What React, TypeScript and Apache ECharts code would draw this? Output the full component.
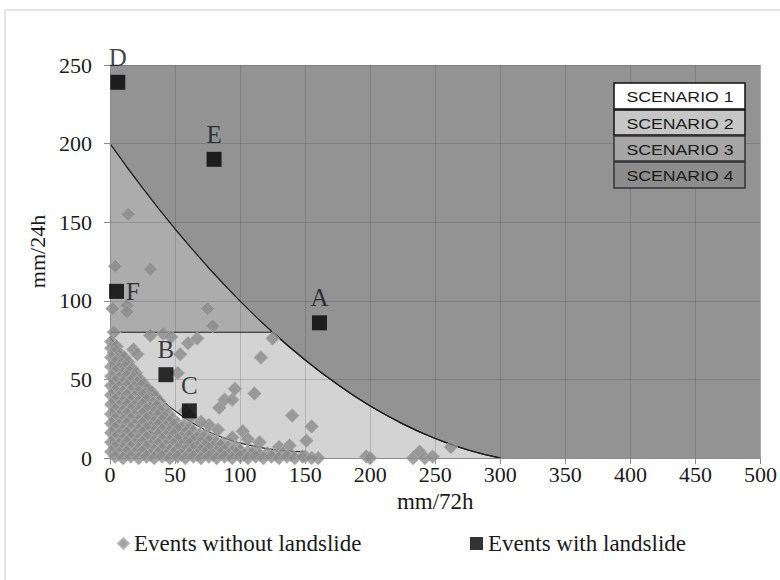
import React, { useEffect, useRef } from "react";
import * as echarts from "echarts";

const xTicks = [0, 50, 100, 150, 200, 250, 300, 350, 400, 450, 500];
const yTicks = [0, 50, 100, 150, 200, 250];

// Outer threshold curve (scenario 3/4 boundary)
const outerCurve: [number, number][] = [
  [0, 200], [12.5, 185.6], [25, 171.8], [37.5, 158.5], [50, 145.7], [62.5, 133.5], [75, 121.7],
  [87.5, 110.5], [100, 99.8], [112.5, 89.6], [125, 80], [137.5, 70.9], [150, 62.3], [162.5, 54.2],
  [175, 46.7], [187.5, 39.6], [200, 33.1], [212.5, 27.2], [225, 21.7], [237.5, 16.8], [250, 12.4],
  [262.5, 8.5], [275, 5.1], [287.5, 2.3], [300, 0],
];
// Horizontal threshold (scenario 2/3 boundary)
const midLine: [number, number][] = [[0, 80], [125, 80]];
// Inner threshold curve (scenario 1/2 boundary)
const innerCurve: [number, number][] = [
  [0, 77], [7.5, 68], [15, 60], [22.5, 52], [30, 45], [37.5, 39], [45, 33], [52.5, 28.5],
  [60, 24], [67.5, 20.3], [75, 17], [82.5, 14.3], [90, 12], [97.5, 10], [105, 8.5],
  [112.5, 7.2], [120, 6], [127.5, 5.2], [135, 4.5], [142.5, 4.1], [150, 4],
];

const withoutLandslide: [number, number][] = [
  // scattered events
  [14, 155], [4, 122], [31, 120], [13, 97], [2, 95], [13, 93], [75, 95], [79, 84], [3, 80],
  [31, 78], [41, 79], [47, 77], [60, 73], [67, 76], [125, 76], [116, 64], [54, 66], [18, 69],
  [21, 66], [52, 54], [96, 44], [111, 41], [88, 37], [94, 37], [84, 32],
  [140, 27], [155, 20], [151, 11], [160, 0], [150, 1], [197, 1], [200, 0], [233, 0], [238, 4],
  [242, 0], [248, 1], [262, 7],
  [76, 21], [83, 18], [102, 17], [94, 13], [106, 12], [115, 10], [130, 7], [138, 8],
  [62, 26], [58, 30], [70, 23],
  // dense cluster
  [1, 74], [1, 70], [5, 71], [3, 67], [8, 66], [1, 64], [6, 63], [11, 64], [4, 61], [9, 60], [14, 61],
  [1, 58], [7, 57], [12, 58], [17, 57], [4, 55], [10, 54], [15, 55], [20, 54],
  [1, 52], [7, 51], [13, 52], [18, 51], [23, 50], [4, 49], [10, 48], [16, 49], [21, 48], [26, 47],
  [1, 46], [7, 45], [13, 46], [19, 45], [24, 46], [29, 44],
  [4, 43], [10, 42], [16, 43], [22, 42], [27, 41], [32, 42],
  [1, 40], [7, 39], [13, 40], [19, 39], [25, 40], [30, 38], [35, 39],
  [4, 37], [10, 36], [16, 37], [22, 36], [28, 37], [33, 35], [38, 36],
  [1, 34], [7, 33], [13, 34], [19, 33], [25, 34], [31, 32], [36, 33], [42, 31],
  [4, 31], [10, 30], [16, 31], [22, 30], [28, 31], [34, 29], [39, 30], [45, 28],
  [1, 28], [7, 27], [13, 28], [19, 27], [25, 28], [31, 26], [37, 27], [42, 26], [48, 25],
  [4, 25], [10, 24], [16, 25], [22, 24], [28, 25], [34, 23], [40, 24], [46, 23], [52, 22], [57, 21],
  [1, 22], [7, 21], [13, 22], [19, 21], [25, 22], [31, 20], [37, 21], [43, 20], [49, 21], [55, 19], [61, 19],
  [4, 19], [10, 18], [16, 19], [22, 18], [28, 19], [34, 17], [40, 18], [46, 17], [52, 18], [58, 16], [64, 17], [69, 15],
  [1, 16], [7, 15], [13, 16], [19, 15], [25, 16], [31, 14], [37, 15], [43, 14], [49, 15], [55, 13], [61, 14],
  [67, 13], [73, 14], [78, 12],
  [4, 13], [10, 12], [16, 13], [22, 12], [28, 13], [34, 11], [40, 12], [46, 11], [52, 12], [58, 10], [64, 11],
  [70, 10], [76, 11], [82, 10], [87, 9],
  [1, 10], [7, 9], [13, 10], [19, 9], [25, 10], [31, 8], [37, 9], [43, 8], [49, 9], [55, 8], [61, 9], [67, 7],
  [73, 8], [79, 7], [85, 8], [91, 7], [97, 7],
  [4, 7], [10, 6], [16, 7], [22, 6], [28, 7], [34, 5], [40, 6], [46, 5], [52, 6], [58, 5], [64, 6], [70, 5],
  [76, 6], [82, 4], [88, 5], [94, 4], [100, 5], [106, 4], [112, 5],
  [1, 4], [7, 3], [13, 4], [19, 3], [25, 4], [31, 2], [37, 3], [43, 2], [49, 3], [55, 2], [61, 3], [67, 2],
  [73, 3], [79, 2], [85, 3], [91, 2], [97, 3], [103, 2], [109, 3], [115, 2], [121, 3], [127, 2], [133, 3], [139, 2],
  [4, 1], [10, 0], [16, 1], [22, 0], [28, 1], [34, 0], [40, 1], [46, 0], [52, 1], [58, 0], [64, 1], [70, 0],
  [76, 1], [82, 0], [88, 1], [94, 0], [100, 1], [106, 0], [112, 1], [118, 0], [124, 1], [130, 0], [136, 1],
  [142, 0], [148, 1], [155, 0],
];

const landslideNames = ["A", "B", "C", "D", "E", "F"];
const landslideX = [161, 43, 61, 6, 80, 5];
const landslideY = [86, 53, 30, 239, 190, 106];
const landslideLabelPos = ["top", "top", "top", "top", "top", "right"];

const scenarioLabels = ["SCENARIO 1", "SCENARIO 2", "SCENARIO 3", "SCENARIO 4"];
const scenarioColors = ["#ffffff", "#c6c6c6", "#a6a6a6", "#8c8c8c"];
const scenarioBorders = ["#111111", "#111111", "#333333", "#333333"];

const SERIF = "'Liberation Serif', 'Times New Roman', serif";
const SANS = "'Liberation Sans', Arial, sans-serif";

export default function App() {
  const ref = useRef<HTMLDivElement>(null);
  useEffect(() => {
    if (!ref.current) return;
    const chart = echarts.init(ref.current, null, { renderer: "svg" });

    const boxTops = [83, 110, 136, 162];
    const boxHeights = [26, 25, 25, 26];
    const scenarioGraphics: any[] = [];
    scenarioLabels.forEach((lab, i) => {
      scenarioGraphics.push({
        type: "rect",
        shape: { x: 614, y: boxTops[i], width: 131, height: boxHeights[i] },
        style: { fill: scenarioColors[i], stroke: scenarioBorders[i], lineWidth: 1.5 },
        z: 100,
      });
      scenarioGraphics.push({
        type: "text",
        x: 680,
        y: boxTops[i] + boxHeights[i] / 2 + 1,
        scaleX: 1.18,
        style: {
          text: lab,
          x: 0,
          y: 0,
          textAlign: "center",
          textVerticalAlign: "middle",
          fontFamily: SANS,
          fontSize: 15,
          fill: "#1a1a1a",
        },
        z: 101,
      });
    });

    const landslideData = landslideNames.map((n, i) => ({
      value: [landslideX[i], landslideY[i]],
      name: n,
      label: { position: landslideLabelPos[i], distance: landslideLabelPos[i] === "right" ? 2 : 5 },
    }));

    chart.setOption({
      animation: false,
      backgroundColor: "#ffffff",
      grid: {
        left: 110, right: 16, top: 65, bottom: 122,
        show: true, backgroundColor: "#939393", borderWidth: 0,
      },
      xAxis: {
        type: "value", min: 0, max: 500, interval: 50, z: 3,
        name: "mm/72h", nameLocation: "middle", nameGap: 22,
        nameTextStyle: { fontFamily: SERIF, fontSize: 23, color: "#1a1a1a" },
        axisLine: { show: true, lineStyle: { color: "#8c8c8c", width: 1 } },
        axisTick: { show: true, length: 6, lineStyle: { color: "#8c8c8c" } },
        axisLabel: {
          fontFamily: SERIF, fontSize: 22, color: "#1a1a1a", margin: 5,
          formatter: (v: number) => (xTicks.includes(v) ? String(v) : ""),
        },
        splitLine: { show: true, lineStyle: { color: "rgba(50,50,50,0.2)", width: 1 } },
      },
      yAxis: {
        type: "value", min: 0, max: 250, interval: 50, z: 3,
        name: "mm/24h", nameLocation: "middle", nameGap: 62,
        nameTextStyle: { fontFamily: SERIF, fontSize: 22, color: "#1a1a1a", padding: [0, 0, 0, 20] },
        axisLine: { show: true, lineStyle: { color: "#8c8c8c", width: 1 } },
        axisTick: { show: true, length: 6, lineStyle: { color: "#8c8c8c" } },
        axisLabel: {
          fontFamily: SERIF, fontSize: 22, color: "#1a1a1a", margin: 18,
          formatter: (v: number) => (yTicks.includes(v) ? String(v) : ""),
        },
        splitLine: { show: true, lineStyle: { color: "rgba(50,50,50,0.2)", width: 1 } },
      },
      legend: [
        {
          data: [{ name: "Events without landslide", icon: "diamond" }],
          left: 112, top: 527, itemWidth: 11, itemHeight: 11,
          textStyle: { fontFamily: SERIF, fontSize: 23, color: "#1a1a1a" },
          selectedMode: false,
        },
        {
          data: [{ name: "Events with landslide", icon: "rect" }],
          left: 465, top: 527, itemWidth: 13, itemHeight: 13,
          textStyle: { fontFamily: SERIF, fontSize: 23, color: "#1a1a1a" },
          selectedMode: false,
        },
      ],
      graphic: [
        {
          type: "rect",
          shape: { x: 5, y: 10, width: 800, height: 600 },
          style: { fill: "none", stroke: "#c8c8c8", lineWidth: 1 },
          z: 0, silent: true,
        },
        ...scenarioGraphics,
      ],
      series: [
        {
          name: "scenario3", type: "line", data: outerCurve, symbol: "none",
          z: 1, silent: true,
          lineStyle: { color: "#1e1e1e", width: 1.3 },
          areaStyle: { color: "#acacac", opacity: 1, origin: "start" },
        },
        {
          name: "scenario2", type: "line",
          data: [...midLine, ...outerCurve.filter((p) => p[0] > 125)],
          symbol: "none", z: 1, silent: true,
          lineStyle: { color: "#1e1e1e", width: 1.2 },
          areaStyle: { color: "#d3d3d3", opacity: 1, origin: "start" },
        },
        {
          name: "scenario1", type: "line", data: innerCurve, symbol: "none",
          z: 1, silent: true,
          lineStyle: { color: "#1e1e1e", width: 1.2 },
          areaStyle: { color: "#ffffff", opacity: 1, origin: "start" },
        },
        {
          name: "Events without landslide", type: "scatter", data: withoutLandslide,
          symbol: "diamond", symbolSize: 14, z: 4,
          itemStyle: { color: "#8b8b8b", borderColor: "#b4b4b4", borderWidth: 0.8 },
        },
        {
          name: "Events with landslide", type: "scatter", data: landslideData,
          symbol: "rect", symbolSize: 15, z: 5,
          itemStyle: { color: "#000000" },
          label: {
            show: true, formatter: (p: any) => p.name,
            fontFamily: SERIF, fontSize: 25, color: "#111111",
          },
        },
      ],
    });
    return () => chart.dispose();
  }, []);
  return (
    <div
      ref={ref}
      style={{ position: "absolute", left: 0, top: 0, width: 780, height: 580 }}
    />
  );
}
